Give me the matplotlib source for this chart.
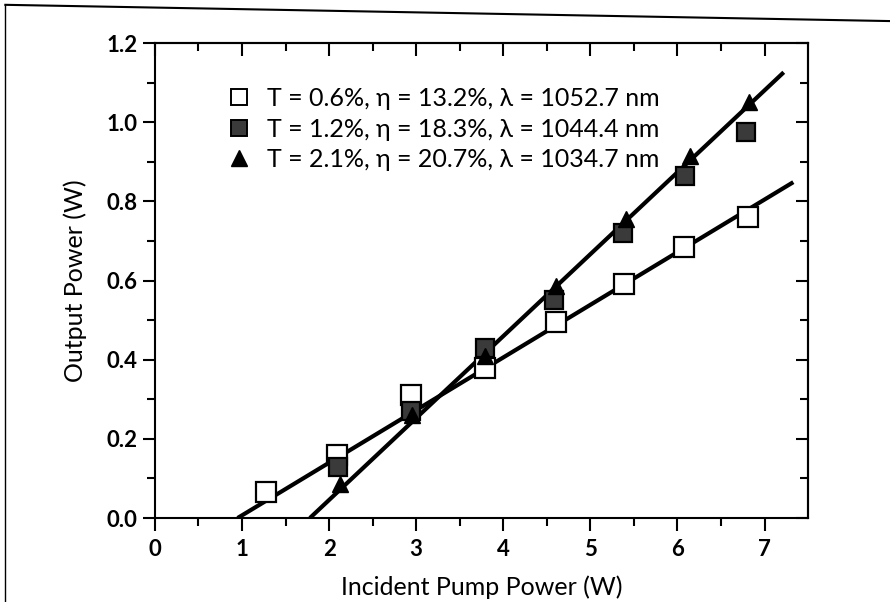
import matplotlib
matplotlib.use("Agg")
import matplotlib.pyplot as plt
import numpy as np
from matplotlib.lines import Line2D

plt.rcParams['font.family'] = ['Lato', 'DejaVu Sans']

# ---- data ----
pump_06 = [1.28, 2.09, 2.94, 3.79, 4.60, 5.39, 6.07, 6.81]
out_06 = [0.065, 0.16, 0.31, 0.38, 0.495, 0.59, 0.685, 0.76]
pump_12 = [2.10, 2.94, 3.79, 4.58, 5.38, 6.09, 6.79]
out_12 = [0.13, 0.27, 0.43, 0.55, 0.72, 0.865, 0.975]
pump_21 = [2.12, 2.95, 3.79, 4.60, 5.41, 6.14, 6.82]
out_21 = [0.085, 0.26, 0.41, 0.585, 0.755, 0.915, 1.05]

# linear fits drawn (threshold, slope, end of fit)
fit_threshold = [0.95, 1.78]
fit_slope = [0.133, 0.207]
fit_end = [7.33, 7.22]

labels = ["T = 0.6%, \u03b7 = 13.2%, \u03bb = 1052.7 nm",
          "T = 1.2%, \u03b7 = 18.3%, \u03bb = 1044.4 nm",
          "T = 2.1%, \u03b7 = 20.7%, \u03bb = 1034.7 nm"]
xticks = [0, 1, 2, 3, 4, 5, 6, 7]
yticks = [0.0, 0.2, 0.4, 0.6, 0.8, 1.0, 1.2]

fig = plt.figure(figsize=(8.9, 6.02), dpi=100)
ax = fig.add_axes([0.174, 0.1395, 0.734, 0.789])

# fit lines
for th, sl, en in zip(fit_threshold, fit_slope, fit_end):
    xs = np.array([th, en])
    ax.plot(xs, sl * (xs - th), color='black', lw=3, zorder=2, solid_capstyle='butt')

ax.plot(pump_06, out_06, linestyle='none', marker='s', ms=14, mfc='white',
        mec='black', mew=1.6, zorder=3)
ax.plot(pump_12, out_12, linestyle='none', marker='s', ms=13, mfc='#3a3a3a',
        mec='black', mew=1.6, zorder=4)
ax.plot(pump_21, out_21, linestyle='none', marker='^', ms=12, mfc='black',
        mec='black', zorder=5)

ax.set_xlim(0, 7.5)
ax.set_ylim(0, 1.2)
ax.set_xticks(xticks)
ax.set_xticklabels([str(v) for v in xticks], fontweight='bold')
ax.set_yticks(yticks)
ax.set_yticklabels([f"{v:.1f}" for v in yticks], fontweight='bold')
ax.set_xticks(np.arange(0.5, 7.5, 1.0), minor=True)
ax.set_yticks(np.arange(0.1, 1.2, 0.2), minor=True)

ax.tick_params(which='both', direction='out', top=False, right=False,
               labelsize=16, width=1.5, colors='black')
ax.tick_params(which='major', length=9)
ax.tick_params(which='minor', length=6)
ax.tick_params(axis='x', pad=6)

# inward ticks on top and right
ax_top = ax.secondary_xaxis('top')
ax_top.set_xticks(xticks)
ax_top.set_xticks(np.arange(0.5, 7.5, 1.0), minor=True)
ax_top.tick_params(which='both', direction='in', labeltop=False, width=1.5)
ax_top.tick_params(which='major', length=9)
ax_top.tick_params(which='minor', length=6)
ax_top.spines['top'].set_linewidth(1.5)
ax_right = ax.secondary_yaxis('right')
ax_right.set_yticks(yticks)
ax_right.set_yticks(np.arange(0.1, 1.2, 0.2), minor=True)
ax_right.tick_params(which='both', direction='in', labelright=False, width=1.5)
ax_right.tick_params(which='major', length=9)
ax_right.tick_params(which='minor', length=6)
ax_right.spines['right'].set_linewidth(1.5)

for s in ax.spines.values():
    s.set_linewidth(1.5)

ax.set_xlabel("Incident Pump Power (W)", fontsize=18, labelpad=11)
ax.set_ylabel("Output Power (W)", fontsize=18, labelpad=14)

handles = [
    Line2D([], [], linestyle='none', marker='s', ms=12, mfc='white', mec='black', mew=1.4),
    Line2D([], [], linestyle='none', marker='s', ms=11, mfc='#3a3a3a', mec='black', mew=1.4),
    Line2D([], [], linestyle='none', marker='^', ms=11, mfc='black', mec='black'),
]
ax.legend(handles, labels, loc='upper left', bbox_to_anchor=(0.095, 0.928),
          frameon=False, fontsize=18, handletextpad=0.6, labelspacing=0.3,
          handlelength=1.0, borderaxespad=0)

# scanned page border
fig.add_artist(Line2D([0.006, 1.0], [0.992, 0.965], transform=fig.transFigure,
                      color='black', lw=1.5))
fig.add_artist(Line2D([0.006, 0.006], [0.992, 0.0], transform=fig.transFigure,
                      color='black', lw=1.0))

fig.savefig("out.png", dpi=100)
